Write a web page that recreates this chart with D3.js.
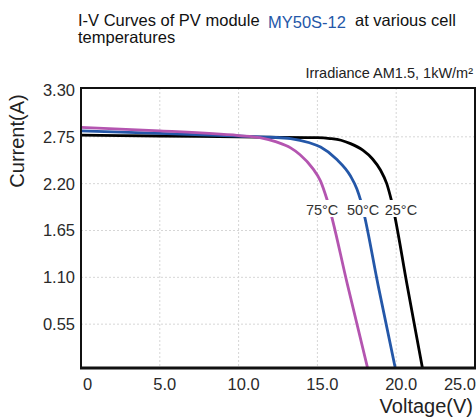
<!DOCTYPE html>
<html>
<head>
<meta charset="utf-8">
<script src="https://cdn.jsdelivr.net/npm/d3@7"></script>
<style>
  body { margin: 0; background: #fff; }
  svg { font-family: "Liberation Sans", Arial, Helvetica, sans-serif; }
</style>
</head>
<body>
<div id="chart"></div>
<script>
// data
const TEMPS = ["25°C", "50°C", "75°C"]
const VOLT_25 = [0, 5, 10, 15, 15.8, 16.5, 17.1, 17.9, 18.5, 19.0, 19.4, 19.7, 20.7, 21.7]
const AMP_25 = [2.77, 2.76, 2.75, 2.74, 2.73, 2.71, 2.67, 2.59, 2.49, 2.36, 2.2, 2.0, 1.0, 0]
const VOLT_50 = [0, 5, 10, 12, 13.3, 14.5, 15.2, 16.2, 17.1, 17.5, 17.75, 18.86, 19.98]
const AMP_50 = [2.82, 2.79, 2.76, 2.745, 2.73, 2.68, 2.63, 2.49, 2.29, 2.14, 2.0, 1.0, 0]
const VOLT_75 = [0, 5, 10, 11.35, 12.4, 13.3, 13.9, 14.7, 15.2, 15.6, 16.9, 18.23]
const AMP_75 = [2.86, 2.82, 2.765, 2.74, 2.69, 2.62, 2.54, 2.38, 2.23, 2.02, 1.02, 0]
const LABEL_V = [20.3, 17.9, 15.3]   // where each temperature label sits
const X_TICKS = [0, 5, 10, 15, 20, 25]
const Y_TICKS = [0.55, 1.10, 1.65, 2.20, 2.75, 3.30]

const COLORS = ["#000000", "#2457a8", "#b455b0"]
const series = [
  d3.zip(VOLT_25, AMP_25),
  d3.zip(VOLT_50, AMP_50),
  d3.zip(VOLT_75, AMP_75)
]

const W = 476, H = 419
const plotLeft = 81, plotRight = 475, plotTop = 88, plotBottom = 368

const svg = d3.select("#chart").append("svg")
  .attr("width", W)
  .attr("height", H)

const x = d3.scaleLinear().domain([0, 25]).range([plotLeft, plotRight])
const y = d3.scaleLinear().domain([0, 3.30]).range([371, 90])

svg.append("defs").append("clipPath")
  .attr("id", "plot-area")
  .append("rect")
    .attr("x", plotLeft).attr("y", plotTop)
    .attr("width", plotRight - plotLeft).attr("height", plotBottom - plotTop)

// grid
svg.append("g")
  .selectAll("line")
  .data(X_TICKS.slice(1, -1))
  .enter().append("line")
    .attr("x1", d => x(d)).attr("x2", d => x(d))
    .attr("y1", plotTop).attr("y2", plotBottom)
    .attr("stroke", "#d6d6d6")
    .attr("stroke-dasharray", "2,2")

svg.append("g")
  .selectAll("line")
  .data(Y_TICKS.slice(0, -1))
  .enter().append("line")
    .attr("x1", plotLeft).attr("x2", plotRight)
    .attr("y1", d => y(d)).attr("y2", d => y(d))
    .attr("stroke", "#d6d6d6")
    .attr("stroke-dasharray", "2,2")

// curves
const line = d3.line()
  .x(d => x(d[0]))
  .y(d => y(d[1]))
  .curve(d3.curveMonotoneX)

svg.append("g")
  .attr("clip-path", "url(#plot-area)")
  .selectAll("path")
  .data(series)
  .enter().append("path")
    .attr("d", line)
    .attr("fill", "none")
    .attr("stroke", (d, i) => COLORS[i])
    .attr("stroke-width", 2.8)

// temperature labels with white gap behind them
const labels = svg.append("g")
  .selectAll("g")
  .data(TEMPS)
  .enter().append("g")

labels.append("text")
  .attr("x", (d, i) => x(LABEL_V[i]))
  .attr("y", 215)
  .attr("text-anchor", "middle")
  .attr("font-size", 14.5)
  .attr("fill", "#333")
  .text(d => d)

labels.each(function() {
  const g = d3.select(this)
  const b = g.select("text").node().getBBox()
  g.insert("rect", "text")
    .attr("x", b.x - 1)
    .attr("y", 200)
    .attr("width", b.width + 2)
    .attr("height", 17)
    .attr("fill", "#fff")
})

// frame
svg.append("rect")
  .attr("x", plotLeft).attr("y", plotTop)
  .attr("width", plotRight - plotLeft).attr("height", plotBottom - plotTop)
  .attr("fill", "none")
  .attr("stroke", "#111")
  .attr("stroke-width", 2)
svg.append("line")
  .attr("x1", plotLeft - 1).attr("x2", plotRight + 1)
  .attr("y1", plotBottom).attr("y2", plotBottom)
  .attr("stroke", "#111")
  .attr("stroke-width", 3)

// tick labels
svg.append("g")
  .selectAll("text")
  .data(Y_TICKS)
  .enter().append("text")
    .attr("x", 75)
    .attr("y", d => y(d))
    .attr("dy", "0.36em")
    .attr("text-anchor", "end")
    .attr("font-size", 16.5)
    .attr("fill", "#2a2a2a")
    .text(d => d.toFixed(2))

svg.append("g")
  .selectAll("text")
  .data(X_TICKS)
  .enter().append("text")
    .attr("x", (d, i) => i === 0 ? x(d) + 2 : (i === X_TICKS.length - 1 ? plotRight + 1 : x(d) + 5))
    .attr("y", 390)
    .attr("text-anchor", (d, i) => i === 0 ? "start" : (i === X_TICKS.length - 1 ? "end" : "middle"))
    .attr("font-size", 16.5)
    .attr("fill", "#2a2a2a")
    .text(d => d === 0 ? "0" : d.toFixed(1))

// axis titles
svg.append("text")
  .attr("transform", "translate(24,141) rotate(-90)")
  .attr("text-anchor", "middle")
  .attr("font-size", 20)
  .attr("fill", "#222")
  .text("Current(A)")

svg.append("text")
  .attr("x", 473)
  .attr("y", 413)
  .attr("text-anchor", "end")
  .attr("font-size", 20)
  .attr("fill", "#222")
  .text("Voltage(V)")

// titles
const title = svg.append("text")
  .attr("x", 78)
  .attr("y", 26)
  .attr("font-size", 16.5)
  .attr("fill", "#111")
title.append("tspan").text("I-V Curves of PV module ")
title.append("tspan").attr("fill", "#2457a8").attr("x", 268).attr("dy", 1.5).text("MY50S-12")
title.append("tspan").attr("dy", -1.5).attr("x", 355).text("at various cell")

svg.append("text")
  .attr("x", 78)
  .attr("y", 43)
  .attr("font-size", 16.5)
  .attr("fill", "#111")
  .text("temperatures")

svg.append("text")
  .attr("x", 473)
  .attr("y", 78)
  .attr("text-anchor", "end")
  .attr("font-size", 14.5)
  .attr("fill", "#222")
  .text("Irradiance AM1.5, 1kW/m²")
</script>
</body>
</html>
